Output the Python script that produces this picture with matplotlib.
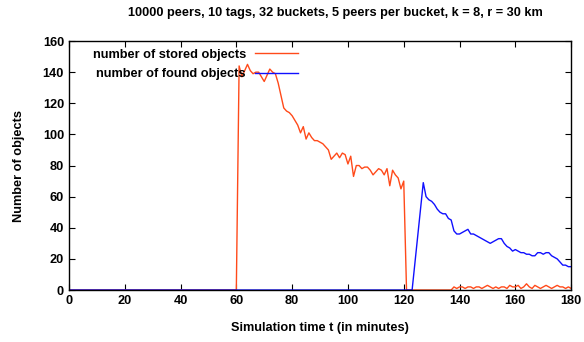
import matplotlib.pyplot as plt

plt.rcParams['font.family'] = ['Liberation Sans', 'DejaVu Sans']
plt.rcParams['font.weight'] = 'bold'

# number of stored objects (minutes -> count)
stored_t = [0, 60] + list(range(61, 122)) + [137] + list(range(138, 181))
stored_v = [0, 0,
            144, 137, 141, 145, 141, 139, 140, 140, 137, 134,
            138, 142, 140, 139, 133, 125, 117, 115, 114, 112,
            109, 106, 101, 105, 97, 101, 98, 96, 96, 95,
            94, 92, 90, 84, 86, 88, 85, 88, 87, 81,
            86, 73, 80, 80, 78, 79, 79, 77, 74, 76,
            78, 77, 74, 78, 67, 77, 74, 72, 65, 70,
            0,
            0,
            2, 1, 2, 2, 1, 2, 2, 1, 2, 2,
            1, 2, 3, 2, 1, 2, 1, 2, 2, 1,
            3, 2, 2, 3, 1, 2, 4, 2, 1, 3,
            2, 1, 2, 3, 2, 1, 2, 3, 2, 2,
            1, 2, 1]

# number of found objects
found_t = [0, 123] + list(range(127, 181))
found_v = [0, 0,
           69, 60, 58, 57, 55, 52, 50, 49, 49, 46,
           45, 38, 36, 36, 37, 38, 39, 36, 36, 35,
           34, 33, 32, 31, 30, 31, 32, 33, 33, 30,
           28, 27, 25, 26, 25, 24, 24, 23, 23, 22,
           22, 24, 24, 23, 24, 24, 22, 21, 20, 18,
           16, 16, 15, 15]

fs = 9.2

fig = plt.figure(figsize=(5.84, 3.42), dpi=100)
ax = fig.add_axes([0.118, 0.152, 0.860, 0.728])

ax.plot(stored_t, stored_v, color='#ff4a1a', lw=1.0, label='number of stored objects')
ax.plot(found_t, found_v, color='#1010ff', lw=1.0, label='number of found objects')

ax.set_xlim(0, 180)
ax.set_ylim(0, 160)
ax.set_xticks(range(0, 181, 20))
ax.set_yticks(range(0, 161, 20))
ax.tick_params(direction='in', top=True, right=True, labelsize=fs, length=4, width=0.8)
for s in ax.spines.values():
    s.set_linewidth(1.0)

ax.set_xlabel('Simulation time t (in minutes)', fontsize=fs, fontweight='bold', labelpad=11)
ax.set_ylabel('Number of objects', fontsize=fs, fontweight='bold', labelpad=13)
fig.text(0.574, 0.962, '10000 peers, 10 tags, 32 buckets, 5 peers per bucket, k = 8, r = 30 km',
         fontsize=fs, fontweight='bold', ha='center', va='center')

ax.legend(loc='upper left', bbox_to_anchor=(0.032, 1.0), frameon=False, markerfirst=False,
          fontsize=fs, handlelength=3.4, labelspacing=0.6, handletextpad=0.7,
          borderaxespad=0.2)

fig.savefig('out.png', dpi=100)
